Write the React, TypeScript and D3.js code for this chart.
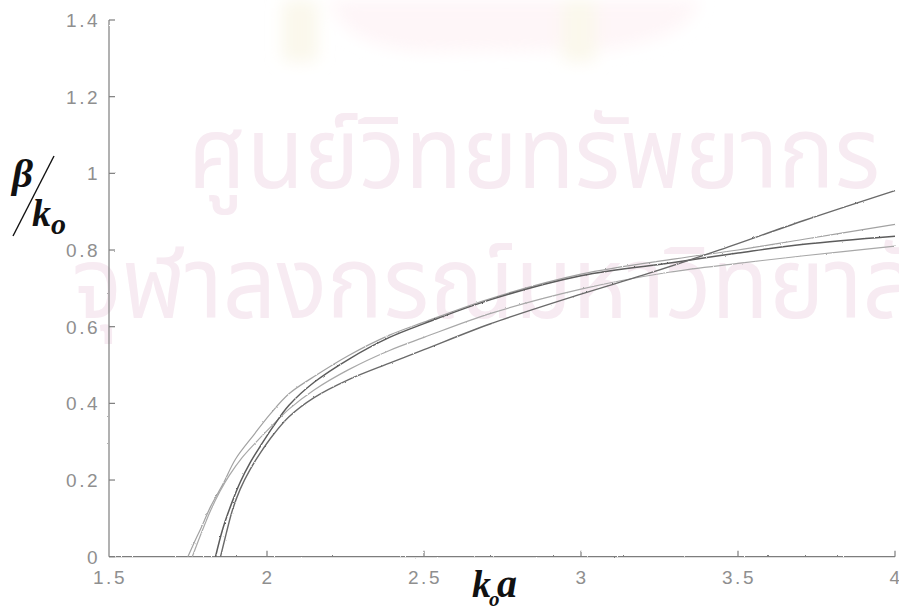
import React from "react";
import * as d3 from "d3";

// k_o a values and normalised propagation constant beta/k_o for each curve
const curveAX = [1.748, 1.77, 1.79, 1.82, 1.86, 1.9, 1.96, 2.01, 2.07, 2.15, 2.26, 2.39, 2.5, 2.71, 3.0, 3.3, 3.5, 3.71, 4.0];
const curveAY = [0, 0.04, 0.075, 0.13, 0.19, 0.255, 0.32, 0.372, 0.425, 0.47, 0.525, 0.578, 0.612, 0.673, 0.737, 0.777, 0.8, 0.828, 0.867];

const curveBX = [1.836, 1.86, 1.89, 1.915, 1.946, 1.98, 2.02, 2.07, 2.15, 2.26, 2.39, 2.5, 2.71, 3.0, 3.3, 3.5, 3.71, 4.0];
const curveBY = [0, 0.075, 0.145, 0.195, 0.245, 0.29, 0.34, 0.395, 0.455, 0.515, 0.572, 0.608, 0.67, 0.733, 0.768, 0.792, 0.815, 0.836];

const curveCX = [1.762, 1.79, 1.82, 1.85, 1.88, 1.92, 1.97, 2.02, 2.07, 2.15, 2.26, 2.39, 2.5, 2.71, 3.0, 3.28, 3.5, 3.71, 4.0];
const curveCY = [0, 0.06, 0.12, 0.17, 0.212, 0.258, 0.303, 0.345, 0.385, 0.435, 0.488, 0.538, 0.572, 0.634, 0.698, 0.742, 0.765, 0.785, 0.81];

const curveDX = [1.852, 1.87, 1.89, 1.915, 1.946, 1.98, 2.02, 2.07, 2.15, 2.26, 2.39, 2.5, 2.71, 3.0, 3.2, 3.43, 3.71, 4.0];
const curveDY = [0, 0.06, 0.122, 0.177, 0.227, 0.272, 0.318, 0.365, 0.415, 0.462, 0.505, 0.54, 0.607, 0.685, 0.735, 0.797, 0.877, 0.955];

const xTicks = [1.5, 2, 2.5, 3, 3.5, 4];
const yTicks = [0, 0.2, 0.4, 0.6, 0.8, 1, 1.2, 1.4];

const watermarkTop = "ศูนย์วิทยทรัพยากร";
const watermarkBottom = "จุฬาลงกรณ์มหาวิทยาลัย";

const W = 899;
const H = 608;

const x = d3.scaleLinear().domain([1.5, 4]).range([110, 895]);
const y = d3.scaleLinear().domain([0, 1.4]).range([556.7, 20]);

const series = [
  { xs: curveAX, ys: curveAY, color: "#a2a2a2", width: 1.2 },
  { xs: curveCX, ys: curveCY, color: "#a8a8a8", width: 1.2 },
  { xs: curveBX, ys: curveBY, color: "#5c5c5c", width: 1.5 },
  { xs: curveDX, ys: curveDY, color: "#6a6a6a", width: 1.4 },
];

const line = d3
  .line<[number, number]>()
  .x((d) => x(d[0]))
  .y((d) => y(d[1]))
  .curve(d3.curveCatmullRom.alpha(0.5));

const fmt = (v: number) => (v === 0 ? "0" : String(v));

export default function App() {
  const tickFont = "'Liberation Sans', Arial, sans-serif";
  const serif = "'Liberation Serif', 'Times New Roman', serif";
  return (
    <svg
      width={W}
      height={H}
      viewBox={`0 0 ${W} ${H}`}
      style={{ position: "absolute", left: 0, top: 0, background: "#fff" }}
    >
      <defs>
        <filter id="rough" x="-5%" y="-5%" width="110%" height="110%">
          <feTurbulence type="fractalNoise" baseFrequency="0.9" numOctaves="2" seed="3" result="n" />
          <feDisplacementMap in="SourceGraphic" in2="n" scale="1.8" xChannelSelector="R" yChannelSelector="G" />
        </filter>
        <filter id="soft" x="-20%" y="-20%" width="140%" height="140%">
          <feGaussianBlur stdDeviation="8" />
        </filter>
      </defs>

      {/* faint emblem at the top */}
      <g filter="url(#soft)">
        <path d="M330,0 L700,0 Q690,40 600,50 L420,52 Q340,45 330,0 Z" fill="#fef6f8" />
        <rect x={282} y={0} width={36} height={62} rx={8} fill="#fbf8ec" />
        <rect x={562} y={0} width={34} height={62} rx={8} fill="#fbf8ec" />
      </g>

      {/* watermark text */}
      <g fill="#f7ebf2" fontFamily="'Noto Sans Thai', 'Noto Sans', sans-serif">
        <text x={188} y={188} fontSize={100} textLength={692} lengthAdjust="spacingAndGlyphs">
          {watermarkTop}
        </text>
        <text x={72} y={318} fontSize={100} textLength={900} lengthAdjust="spacingAndGlyphs">
          {watermarkBottom}
        </text>
      </g>

      {/* axes */}
      <g stroke="#7d7d7d" strokeWidth={1.2} fill="none" filter="url(#rough)">
        <line x1={x(1.5) - 1} x2={x(1.5) - 1} y1={y(1.4)} y2={y(0)} />
        <line x1={x(1.5) - 1} x2={x(4)} y1={y(0)} y2={y(0)} />
        {yTicks.map((t) => (
          <line key={"yt" + t} x1={x(1.5) - 1} x2={x(1.5) + 5} y1={y(t)} y2={y(t)} />
        ))}
        {xTicks.slice(1).map((t) => (
          <line key={"xt" + t} x1={x(t)} x2={x(t)} y1={y(0)} y2={y(0) - 6} />
        ))}
      </g>

      {/* tick labels */}
      <g fill="#8f8f8f" fontFamily={tickFont} fontSize={19} letterSpacing={2.5}>
        {yTicks.map((t) => (
          <text key={"yl" + t} x={100} y={y(t) + 7} textAnchor="end">
            {fmt(t)}
          </text>
        ))}
        {xTicks.map((t) => (
          <text key={"xl" + t} x={(t === 1.5 ? 109 : x(t)) + 1} y={584} textAnchor="middle">
            {fmt(t)}
          </text>
        ))}
      </g>

      {/* curves */}
      <g fill="none" filter="url(#rough)">
        {series.map((s, i) => (
          <path
            key={i}
            d={line(s.xs.map((v, j) => [v, s.ys[j]] as [number, number])) || ""}
            stroke={s.color}
            strokeWidth={s.width}
          />
        ))}
      </g>

      {/* axis titles */}
      <g fill="#111" fontFamily={serif} fontWeight="bold" fontStyle="italic">
        <text x={12} y={187} fontSize={41}>β</text>
        <line x1={54} y1={156} x2={13} y2={236} stroke="#111" strokeWidth={1.4} />
        <text x={32} y={226} fontSize={38}>k</text>
        <text x={51} y={234} fontSize={30}>o</text>

        <text x={472} y={597} fontSize={38}>k</text>
        <text x={489} y={606} fontSize={21}>o</text>
        <text x={497} y={597} fontSize={40}>a</text>
      </g>
    </svg>
  );
}
